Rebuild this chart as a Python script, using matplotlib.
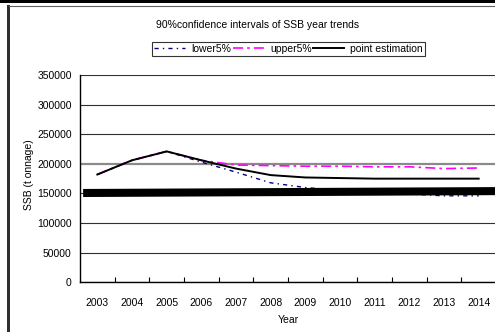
import matplotlib
matplotlib.use("Agg")
import matplotlib.pyplot as plt
from matplotlib.patches import Rectangle
from matplotlib.lines import Line2D

plt.rcParams['font.family'] = ['Liberation Sans', 'DejaVu Sans']

years = ['2003', '2004', '2005', '2006', '2007', '2008', '2009',
         '2010', '2011', '2012', '2013', '2014']
lower5 = [182000, 206000, 221000, 203000, 186000, 168000, 160000,
          155000, 152000, 149000, 146000, 146000]
upper5 = [182000, 206000, 221000, 206000, 198000, 197000, 196000,
          196000, 195000, 195000, 192000, 193000]
point_est = [182000, 206000, 221000, 206000, 192000, 181000, 177000,
             176000, 175000, 175000, 175000, 175000]
# heavy reference bar across the plot
ref_x = [-0.41, 11.7]
ref_y = [150800, 154000]
yticks = [0, 50000, 100000, 150000, 200000, 250000, 300000, 350000]

W, H = 495, 332
fig = plt.figure(figsize=(W / 100, H / 100), dpi=100)

# outer frame
fig.patches.append(Rectangle((0, 1 - 3 / H), 1, 3 / H, transform=fig.transFigure,
                             facecolor='black', edgecolor='none'))
fig.patches.append(Rectangle((7.3 / W, 0), 2.4 / W, 1 - 5 / H, transform=fig.transFigure,
                             facecolor='#303030', edgecolor='none'))
fig.lines.append(Line2D([9 / W, 1], [1 - 5.7 / H, 1 - 5.7 / H], transform=fig.transFigure,
                        color='#606060', lw=0.8))

left, right, top, bottom = 80, 496, 75, 282.3
ax = fig.add_axes([left / W, 1 - bottom / H, (right - left) / W, (bottom - top) / H])

x = list(range(len(years)))
ax.plot(x, lower5, color='#000080', lw=1.0, dashes=(3, 3, 1, 3), label='lower5%', zorder=3)
ax.plot(x, upper5, color='#ff00ff', lw=1.2, dashes=(6, 2.5, 1.5, 2.5), label='upper5%', zorder=3)
ax.plot(x, point_est, color='black', lw=1.4, label='point estimation', zorder=4)
ax.plot(ref_x, ref_y, color='black', lw=5.8, solid_capstyle='butt', zorder=5, clip_on=False)

ax.set_xlim(-0.5, 11.5)
ax.set_ylim(0, 350000)
ax.set_yticks(yticks)
ax.set_yticklabels([str(v) for v in yticks], fontsize=7.5)
ax.tick_params(axis='y', length=0, pad=6)

ax.set_xticks(x)
ax.set_xticklabels(years, fontsize=7.5)
ax.set_xticks([i + 0.5 for i in range(11)], minor=True)
ax.tick_params(axis='x', which='major', length=0, pad=11)
ax.tick_params(axis='x', which='minor', direction='in', length=3.5, width=0.8, color='black')

ax.grid(axis='y', color='#303030', lw=0.8)
for v, gl in zip(yticks, ax.get_ygridlines()):
    if v == 200000:
        gl.set_color('#8a8a8a')
        gl.set_linewidth(1.6)
ax.set_axisbelow(True)

for s in ['top', 'right']:
    ax.spines[s].set_visible(False)
ax.spines['left'].set_color('black')
ax.spines['left'].set_linewidth(1.0)
ax.spines['bottom'].set_color('black')
ax.spines['bottom'].set_linewidth(1.0)

ax.set_ylabel('SSB (t onnage)', fontsize=7.5)
ax.yaxis.set_label_coords(-46 / (right - left), 0.52)
ax.set_xlabel('Year', fontsize=7.5, labelpad=5)

fig.text(257.5 / W, 1 - 25 / H, '90%confidence intervals of SSB year trends',
         fontsize=7.5, ha='center', va='center')

handles, labels = ax.get_legend_handles_labels()
leg = fig.legend(handles, labels, loc='center', bbox_to_anchor=(288.5 / W, 1 - 48.6 / H),
                 ncol=3, fontsize=7.5, frameon=True, fancybox=False, edgecolor='black',
                 handlelength=3.0, handletextpad=0.6, columnspacing=0.1,
                 borderpad=0.2, borderaxespad=0)
leg.get_frame().set_linewidth(0.8)

fig.savefig('out.png', dpi=100)
